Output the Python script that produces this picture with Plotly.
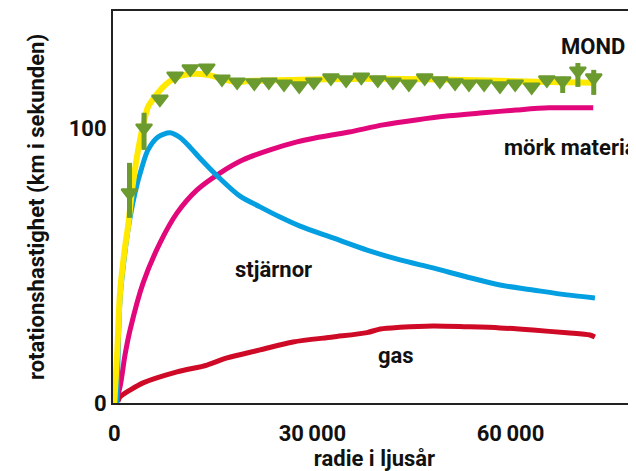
import plotly.graph_objects as go

# ---- data ----
mond_x = [0, 450, 860, 1620, 2070, 2830, 3890, 5100, 5900, 7400, 9200, 11460, 14040, 16460,
          18580, 20600, 28200, 35700, 43300, 50900, 58500, 66000, 72800]
mond_y = [0, 19, 40, 56.7, 64, 80, 95.6, 107.6, 110.5, 114.9, 118.2, 119.6, 119.3, 117.8,
          116.7, 117.1, 117.5, 117.8, 117.8, 117.5, 117.1, 116.7, 116.4]

stars_x = [410, 860, 1470, 2070, 3130, 4190, 5100, 6610, 8430, 9950, 11460, 12970, 16000,
           19030, 22060, 25090, 28120, 33120, 38270, 43270, 48260, 53410, 58400, 63400,
           68540, 72780]
stars_y = [0, 37.5, 52, 62.9, 76.4, 85.8, 92, 96.7, 98.2, 96.5, 93, 89, 81.6,
           75.2, 71.3, 67.6, 64.3, 60, 55.6, 52, 49.1, 45.8, 42.9, 41.1, 39.3, 38.2]

dark_x = [150, 860, 1620, 2380, 4350, 6920, 9500, 12530, 16000, 19500, 23580, 27670,
          30560, 35560, 40700, 45700, 50700, 55850, 60850, 65850, 72520]
dark_y = [0, 5.8, 17.5, 26.5, 43.6, 58.2, 69.1, 77.5, 83.6, 88.4, 92, 94.9,
          96.4, 98.5, 101.1, 102.9, 104.4, 105.5, 106.5, 107.3, 107.3]

gas_x = [550, 860, 2380, 4350, 9500, 14040, 17070, 22070, 27070, 33120, 38270, 40300,
         43270, 48260, 53410, 58400, 63400, 68540, 72020, 72780]
gas_y = [0.5, 2.2, 4.7, 7.3, 11.3, 13.8, 16.4, 19.3, 22.2, 24.0, 25.6, 26.9,
         27.5, 28, 27.7, 27.3, 26.5, 25.5, 24.7, 24]

obs_x = [2300, 4500, 6900, 9200, 11500, 14000, 16300, 18600, 21200, 23400, 25700, 28000,
         30200, 32800, 35100, 37400, 39900, 42200, 44600, 47000, 49300, 51600, 53700,
         56000, 58400, 60700, 63200, 65500, 67900, 70200, 72600]
obs_y = [76.4, 100, 110.5, 118.9, 121.5, 121.8, 117.8, 116.7, 116.4, 116.7, 116, 115.3,
         116.7, 118.2, 117.5, 118.5, 117.5, 116.7, 116, 118.2, 117.1, 116.4, 116,
         116, 115.3, 116, 114.9, 117.5, 117.1, 120.7, 118.2]
err_plus = [10.9, 5.5, 0, 0, 0, 0, 0, 0, 0, 0, 0, 0, 0, 0, 0, 0, 0, 0, 0, 0, 0, 0, 0,
            0, 0, 0, 0, 0, 1.5, 2.9, 2.9]
err_minus = [9.1, 8, 0, 0, 0, 0, 0, 0, 0, 0, 0, 0, 0, 0, 0, 0, 0, 0, 0, 0, 0, 0, 0,
             0, 0, 0, 0, 0, 4.4, 5.8, 6.2]

x_ticks = [0, 30000, 60000]
x_tick_text = ["0", "30\u2009000", "60\u2009000"]
y_ticks = [0, 100]
y_tick_text = ["0", "100"]

labels = ["MOND", "mörk materia", "stjärnor", "gas"]
label_x = [72500, 58700, 17900, 39700]
label_y = [129.5, 92.7, 48.4, 17.1]
label_anchor = ["center", "left", "left", "left"]

FONT = "Roboto, Liberation Sans, sans-serif"
GREEN = "#6b9b2f"

fig = go.Figure()
fig.add_trace(go.Scatter(x=gas_x, y=gas_y, mode="lines", line=dict(color="#cf0a26", width=5, shape="spline", smoothing=0.8), hoverinfo="skip"))
fig.add_trace(go.Scatter(x=dark_x, y=dark_y, mode="lines", line=dict(color="#e2077b", width=5, shape="spline", smoothing=0.8), hoverinfo="skip"))
fig.add_trace(go.Scatter(x=stars_x, y=stars_y, mode="lines", line=dict(color="#049fe0", width=5, shape="spline", smoothing=0.8), hoverinfo="skip"))
fig.add_trace(go.Scatter(x=mond_x, y=mond_y, mode="lines", line=dict(color="#ffe900", width=6, shape="spline", smoothing=0.8), hoverinfo="skip"))
fig.add_trace(go.Scatter(
    x=obs_x, y=obs_y, mode="markers",
    marker=dict(symbol="triangle-down", size=14, color=GREEN, line=dict(color=GREEN, width=2)),
    error_y=dict(type="data", symmetric=False, array=err_plus, arrayminus=err_minus,
                 color=GREEN, thickness=5, width=0),
))

for t, lx, ly, anc in zip(labels, label_x, label_y, label_anchor):
    fig.add_annotation(x=lx, y=ly, text=t, showarrow=False, xanchor=anc, yanchor="middle",
                       font=dict(family=FONT, size=22, color="#111", weight=700))

# the page body has an 8px margin; offsets compensate so the plot sits as in the reference
fig.update_layout(
    width=636, height=471,
    margin=dict(l=105, r=8, t=3, b=76),
    paper_bgcolor="white", plot_bgcolor="white",
    showlegend=False,
    font=dict(family=FONT, size=22, color="#111", weight=700),
    xaxis=dict(range=[-200, 79000], showgrid=False, zeroline=False, automargin=False,
               showline=True, mirror=True, linecolor="#222", linewidth=2,
               tickvals=x_ticks, ticktext=x_tick_text, ticks="", ticklabelstandoff=10,
               tickfont=dict(family=FONT, size=22, weight=700),
               title=dict(text="radie i ljusår", standoff=0,
                          font=dict(family=FONT, size=22, weight=700))),
    yaxis=dict(range=[0, 142.5], showgrid=False, zeroline=False, automargin=False,
               showline=True, linecolor="#222", linewidth=2,
               tickvals=y_ticks, ticktext=y_tick_text, ticks="",
               tickfont=dict(family=FONT, size=22, weight=700),
               title=dict(text="rotationshastighet (km i sekunden)", standoff=18,
                          font=dict(family=FONT, size=22, weight=700))),
)

fig.write_html("out.html")
